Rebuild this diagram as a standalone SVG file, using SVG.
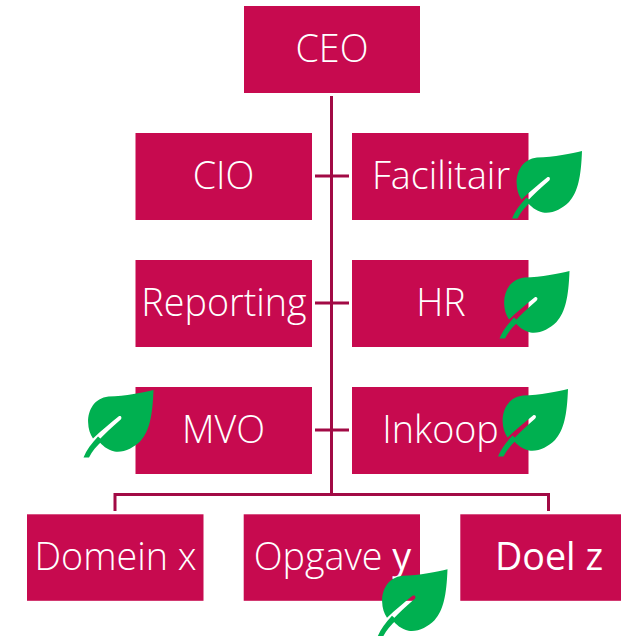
<svg xmlns="http://www.w3.org/2000/svg" width="621" height="636" viewBox="0 0 621 636">
<style>
.box{fill:#C70A4F}
.lbl{font-family:"Open Sans","Noto Sans","DejaVu Sans",sans-serif;font-weight:300;font-size:37.700px;fill:#fff;text-anchor:middle}
.b{font-weight:400}
.con{fill:none;stroke:#A20A45;stroke-width:3}
.leaf{fill:#00B050}
</style>
<defs>
<g id="leaf">
<path fill-rule="evenodd" d="M70,0C60,2.500 42,6 25,6.500C11,8 4.500,20 4.600,32C4.800,39 6.500,44 9.500,48.500C18,40.500 27,33 35,26.500C37.500,25 39,28 37,29.800C29,36.500 21,44 15,50.500C18,55 24,60 31,61.500C40,63 50,58 57,51C66,41 69,26 70,0Z"/>
<path d="M14.500,46.500L19,50.500C13,56 8.500,61.500 5.500,67.500L0,67.500C3,60 8,53.500 14.500,46.500Z"/>
</g>
</defs>
<g id="connectors" class="con">
<path d="M331.500,96V494"/>
<path d="M315,176H349M315,303H349M315,430H349"/>
<path d="M115,511V494.500H548.500V511"/>
</g>
<g id="ceo"><rect class="box" x="244" y="6" width="176" height="87"/><text class="lbl" x="332" y="62">CEO</text></g>
<g id="cio"><rect class="box" x="135.500" y="133" width="176.500" height="87"/><text class="lbl" x="223.500" y="189">CIO</text></g>
<g id="facilitair"><rect class="box" x="352" y="133" width="176.500" height="87"/><text class="lbl" x="441" y="189">Facilitair</text><use href="#leaf" class="leaf" x="512" y="151"/></g>
<g id="reporting"><rect class="box" x="135.500" y="260" width="176.500" height="87"/><text class="lbl" x="224" y="316">Reporting</text></g>
<g id="hr"><rect class="box" x="352" y="260" width="176.500" height="87"/><text class="lbl" x="441" y="316">HR</text><use href="#leaf" class="leaf" x="499.500" y="271"/></g>
<g id="mvo"><rect class="box" x="135.500" y="387" width="176.500" height="87"/><text class="lbl" x="223.500" y="443">MVO</text><use href="#leaf" class="leaf" x="83.500" y="390"/></g>
<g id="inkoop"><rect class="box" x="352" y="387" width="176.500" height="87"/><text class="lbl" x="440.500" y="443">Inkoop</text><use href="#leaf" class="leaf" x="498" y="389"/></g>
<g id="domein"><rect class="box" x="27" y="514.300" width="176.500" height="86.500"/><text class="lbl" x="115.500" y="570">Domein x</text></g>
<g id="opgave"><rect class="box" x="243.700" y="514.300" width="176.300" height="86.500"/><text class="lbl" x="332.500" y="570">Opgave <tspan class="b">y</tspan></text><use href="#leaf" class="leaf" x="377.500" y="569.300"/></g>
<g id="doel"><rect class="box" x="460.300" y="514.300" width="161" height="86.500"/><text class="lbl b" x="549" y="570">Doel z</text></g>
</svg>
